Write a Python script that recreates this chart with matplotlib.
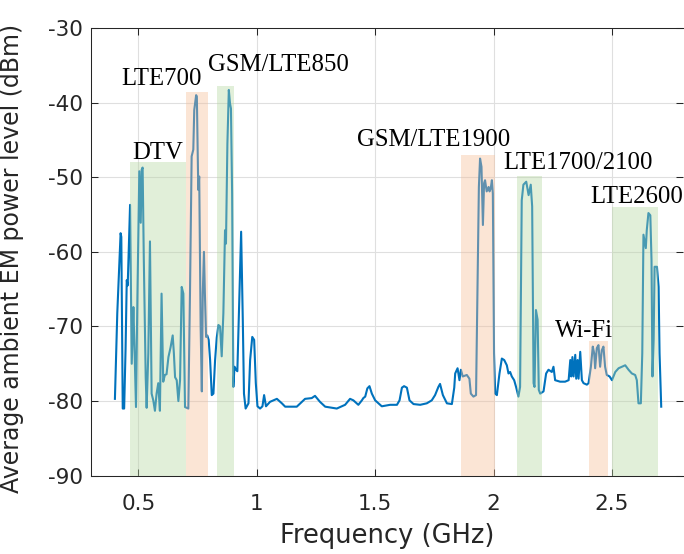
import matplotlib
matplotlib.use("Agg")
import matplotlib.pyplot as plt

# ---- measured spectrum (GHz, dBm) ----
freq = [0.401, 0.411, 0.418, 0.425, 0.428, 0.434, 0.440, 0.446, 0.451, 0.455, 0.459, 0.465,
        0.472, 0.479, 0.483, 0.490, 0.496, 0.504, 0.510, 0.514, 0.518, 0.523, 0.531, 0.535,
        0.542, 0.549, 0.556, 0.563, 0.570, 0.577, 0.584, 0.591, 0.598, 0.605, 0.612, 0.619,
        0.627, 0.636, 0.645, 0.650, 0.655, 0.662, 0.669, 0.676, 0.683, 0.690, 0.697, 0.711,
        0.718, 0.725, 0.732, 0.736, 0.744, 0.747, 0.753, 0.757, 0.763, 0.768, 0.772, 0.777,
        0.781, 0.786, 0.791, 0.797, 0.803, 0.810, 0.817, 0.824, 0.831, 0.838, 0.845, 0.852,
        0.859, 0.866, 0.870, 0.876, 0.882, 0.887, 0.891, 0.896, 0.901, 0.906, 0.913, 0.918,
        0.927, 0.934, 0.941, 0.946, 0.953, 0.965, 0.972, 0.981, 0.989, 0.996, 1.003, 1.014,
        1.024, 1.031, 1.039, 1.056, 1.085, 1.106, 1.120, 1.169, 1.204, 1.232, 1.246, 1.267,
        1.289, 1.338, 1.373, 1.394, 1.408, 1.429, 1.444, 1.450, 1.458, 1.467, 1.476, 1.486,
        1.500, 1.514, 1.528, 1.563, 1.592, 1.603, 1.613, 1.622, 1.634, 1.645, 1.662, 1.690,
        1.718, 1.739, 1.753, 1.767, 1.774, 1.786, 1.803, 1.824, 1.834, 1.838, 1.848, 1.856,
        1.862, 1.870, 1.887, 1.898, 1.904, 1.915, 1.926, 1.932, 1.938, 1.943, 1.949, 1.955,
        1.960, 1.964, 1.971, 1.979, 1.983, 1.988, 1.993, 1.997, 2.002, 2.007, 2.014, 2.025,
        2.035, 2.045, 2.056, 2.063, 2.070, 2.077, 2.087, 2.095, 2.105, 2.112, 2.119, 2.126,
        2.138, 2.148, 2.157, 2.163, 2.169, 2.173, 2.179, 2.186, 2.191, 2.197, 2.211, 2.222,
        2.232, 2.246, 2.253, 2.260, 2.281, 2.302, 2.317, 2.324, 2.328, 2.333, 2.338, 2.345,
        2.349, 2.355, 2.359, 2.366, 2.373, 2.380, 2.394, 2.401, 2.411, 2.419, 2.425, 2.429,
        2.436, 2.443, 2.450, 2.457, 2.464, 2.471, 2.478, 2.490, 2.500, 2.514, 2.528, 2.542,
        2.556, 2.570, 2.584, 2.598, 2.605, 2.612, 2.622, 2.628, 2.633, 2.638, 2.643, 2.647,
        2.654, 2.662, 2.667, 2.671, 2.676, 2.680, 2.690, 2.697, 2.701, 2.708]
power = [-79.7, -68.2, -63.0, -57.5, -58.0, -81.0, -81.0, -73.0, -63.8, -64.5, -60.0, -53.7,
         -75.0, -67.4, -72.0, -80.8, -66.0, -49.2, -56.1, -49.0, -48.7, -61.0, -76.8, -80.9,
         -73.6, -58.6, -79.0, -79.9, -81.3, -79.0, -77.6, -81.3, -65.6, -77.4, -76.5, -76.4,
         -74.1, -72.8, -71.2, -73.6, -76.8, -77.2, -80.0, -77.2, -64.7, -65.6, -80.8, -81.0,
         -65.6, -47.2, -46.3, -41.0, -39.0, -39.2, -51.7, -49.9, -70.0, -78.7, -65.6, -60.0,
         -65.6, -71.4, -71.2, -71.8, -74.5, -79.2, -79.0, -74.5, -71.5, -69.8, -70.0, -74.0,
         -68.2, -57.1, -58.9, -45.5, -38.3, -40.1, -40.8, -52.2, -78.1, -75.4, -75.8, -76.0,
         -65.6, -57.3, -69.1, -79.0, -81.0, -80.3, -74.5, -71.4, -71.8, -77.6, -80.7, -81.0,
         -80.7, -79.2, -80.7, -80.1, -79.7, -80.3, -80.75, -80.75, -79.7, -79.6, -79.3, -80.1,
         -80.75, -81.0, -80.5, -79.7, -79.9, -80.5, -79.9, -79.6, -79.4, -78.3, -78.0, -79.0,
         -79.9, -80.3, -80.7, -80.5, -80.5, -79.9, -78.2, -78.0, -78.2, -79.9, -80.4, -80.5,
         -80.3, -79.9, -79.2, -78.1, -77.7, -79.2, -80.3, -80.4, -78.2, -76.3, -75.6, -77.2,
         -75.8, -76.7, -76.5, -77.0, -79.0, -79.4, -79.2, -64.7, -51.3, -47.5, -48.6, -56.4,
         -50.8, -50.4, -51.9, -51.3, -51.9, -51.5, -50.4, -52.2, -73.6, -79.0, -79.2, -76.3,
         -74.3, -74.5, -75.2, -76.3, -76.1, -76.7, -77.2, -78.1, -79.4, -78.1, -53.1, -51.0,
         -50.6, -52.4, -51.0, -53.9, -77.6, -78.1, -67.8, -69.1, -78.5, -79.0, -78.7, -76.3,
         -75.8, -76.1, -75.4, -77.2, -77.4, -77.4, -77.2, -74.5, -76.7, -74.1, -76.7, -73.8,
         -77.0, -74.5, -77.0, -73.4, -77.2, -77.6, -77.8, -77.6, -75.4, -72.7, -73.6, -75.6,
         -72.9, -72.5, -75.4, -73.2, -72.7, -75.4, -76.5, -76.7, -77.2, -76.1, -75.6, -75.4,
         -75.2, -75.8, -76.3, -76.5, -77.2, -80.3, -80.3, -73.6, -57.7, -58.6, -59.5, -57.1,
         -54.8, -55.1, -61.1, -76.7, -71.8, -62.0, -62.0, -64.7, -73.6, -80.75]

# ---- frequency bands ----
band_names = ["DTV", "LTE700", "GSM/LTE850", "GSM/LTE1900", "LTE1700/2100", "Wi-Fi", "LTE2600"]
band_lo = [0.465, 0.700, 0.830, 1.863, 2.098, 2.404, 2.500]
band_hi = [0.700, 0.795, 0.905, 2.006, 2.204, 2.484, 2.694]
band_top = [-48.0, -38.6, -37.8, -47.0, -49.8, -71.9, -54.0]
band_kind = ["g", "o", "g", "o", "g", "o", "g"]

# label anchor (GHz, dBm) and horizontal alignment
label_x = [0.583, 0.600, 1.093, 1.746, 2.357, 2.381, 2.408]
label_y = [-47.5, -37.7, -35.7, -45.8, -48.9, -71.4, -53.4]
label_ha = ["center", "center", "center", "center", "center", "center", "left"]

xticks = [0.5, 1.0, 1.5, 2.0, 2.5]
xtick_labels = ["0.5", "1", "1.5", "2", "2.5"]
yticks = [-90, -80, -70, -60, -50, -40, -30]
ytick_labels = ["-90", "-80", "-70", "-60", "-50", "-40", "-30"]

colors = {"g": "#b6d7a2", "o": "#f5be98"}
axis_color = "#262626"

fig = plt.figure(figsize=(6.84, 5.54), dpi=100)
ax = fig.add_axes([91 / 684, 78.3 / 554, 592 / 684, 447.7 / 554])

ax.plot(freq, power, color="#0072BD", lw=1.5, zorder=2)

for lo, hi, top, k in zip(band_lo, band_hi, band_top, band_kind):
    ax.bar((lo + hi) / 2, top - (-90), bottom=-90, width=hi - lo,
           color=colors[k], alpha=0.4, linewidth=0, zorder=3)

for name, x, y, ha in zip(band_names, label_x, label_y, label_ha):
    ax.text(x, y, name, ha=ha, va="baseline", fontsize=17.8,
            family="Liberation Serif", color="black", zorder=5)

ax.set_xlim(0.3, 2.8)
ax.set_ylim(-90, -30)
ax.set_xticks(xticks)
ax.set_xticklabels(xtick_labels)
ax.set_yticks(yticks)
ax.set_yticklabels(ytick_labels)
ax.grid(True, color="#dfdfdf", lw=0.8, zorder=0)
ax.set_axisbelow(True)

ax.tick_params(direction="in", top=True, right=True, length=5, width=0.75,
               colors=axis_color, labelsize=15.5, labelcolor=axis_color)
ax.tick_params(axis="x", pad=13)
ax.tick_params(axis="y", pad=6)
for s in ["left", "bottom", "top"]:
    ax.spines[s].set_color(axis_color)
    ax.spines[s].set_linewidth(0.75)
ax.spines["right"].set_visible(False)

ax.set_xlabel("Frequency (GHz)", fontsize=18.5, color=axis_color)
ax.set_ylabel("Average ambient EM power level (dBm)", fontsize=17, color=axis_color)
ax.xaxis.set_label_coords(0.5, -0.105)
ax.yaxis.set_label_coords(-0.113, 0.486)

fig.savefig("out.png", dpi=100)
